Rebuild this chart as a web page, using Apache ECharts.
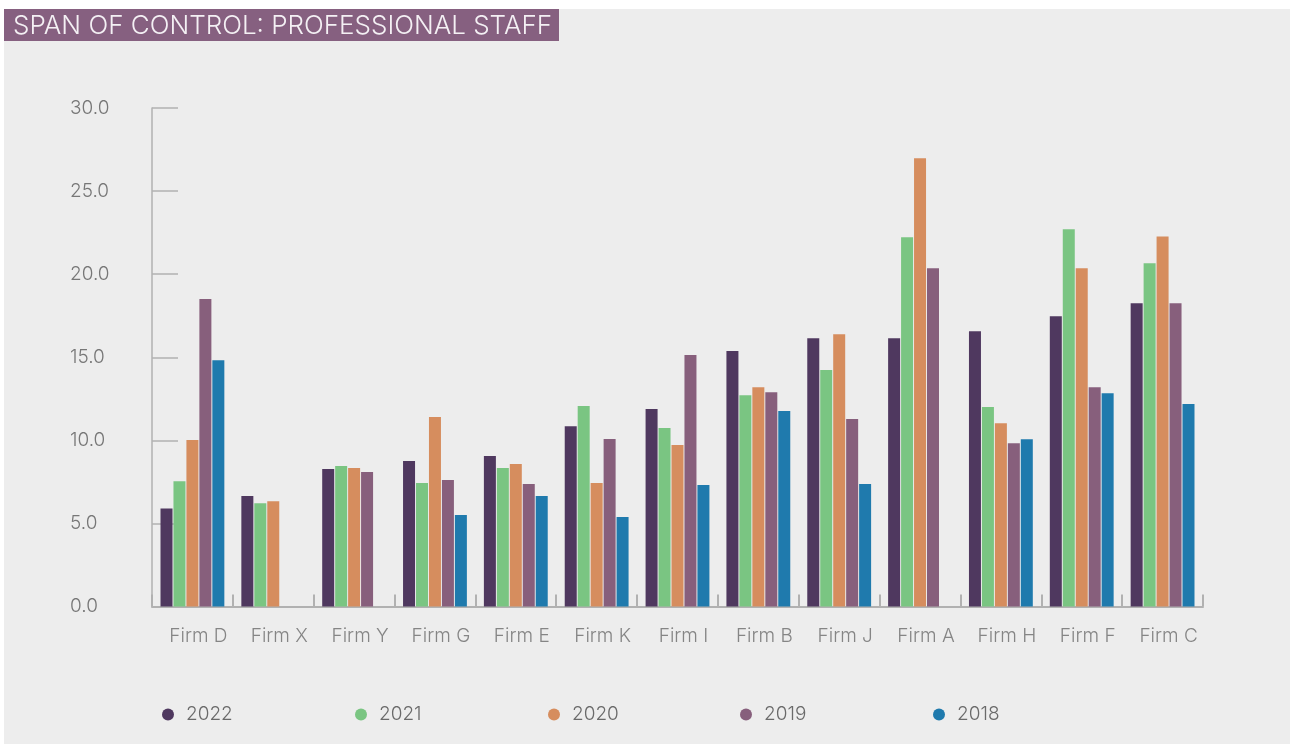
<!DOCTYPE html>
<html>
<head>
<meta charset="utf-8">
<title>Span of Control: Professional Staff</title>
<script src="https://cdn.jsdelivr.net/npm/echarts@6/dist/echarts.min.js"></script>
<style>
  html, body { margin: 0; padding: 0; background: #ffffff; }
  #chart { width: 1291px; height: 744px; }
</style>
</head>
<body>
<div id="chart"></div>
<script>
// Firms along the category axis
const firms = ['Firm D', 'Firm X', 'Firm Y', 'Firm G', 'Firm E', 'Firm K', 'Firm I',
               'Firm B', 'Firm J', 'Firm A', 'Firm H', 'Firm F', 'Firm C'];

// Span of control per firm, one array per year
const y2022 = [5.9, 6.65, 8.27, 8.75, 9.05, 10.85, 11.88, 15.37, 16.15, 16.15, 16.57, 17.47, 18.25];
const y2021 = [7.54, 6.22, 8.45, 7.43, 8.33, 12.06, 10.74, 12.72, 14.23, 22.22, 12.0, 22.7, 20.65];
const y2020 = [10.02, 6.34, 8.33, 11.4, 8.57, 7.43, 9.72, 13.2, 16.39, 26.97, 11.03, 20.35, 22.27];
const y2019 = [18.5, 0, 8.09, 7.61, 7.37, 10.08, 15.13, 12.9, 11.28, 20.35, 9.83, 13.2, 18.25];
const y2018 = [14.82, 0, 0, 5.51, 6.65, 5.39, 7.31, 11.76, 7.37, 0, 10.07, 12.84, 12.18];

const years = ['2022', '2021', '2020', '2019', '2018'];
const yearValues = [y2022, y2021, y2020, y2019, y2018];
const yearColors = ['#4f385f', '#7ac582', '#d68d5e', '#875f7c', '#1f7aad'];

// Value axis ticks
const yMin = 0, yMax = 30, yStep = 5;

const FONT = 'Inter, "Open Sans", sans-serif';
const AXIS_GREY = '#b1b1b1';

const chart = echarts.init(document.getElementById('chart'), null, { renderer: 'canvas' });

const series = years.map((name, i) => ({
  name: name,
  type: 'bar',
  data: yearValues[i],
  barWidth: 12,
  barGap: '8%',
  itemStyle: { color: yearColors[i] },
  emphasis: { disabled: true }
}));

// One legend per year so each entry sits at its own slot
const legendLefts = [157, 350, 543, 735, 928];
const legends = years.map((name, i) => ({
  data: [name],
  left: legendLefts[i],
  top: 700,
  icon: 'circle',
  itemWidth: 12,
  itemHeight: 15,
  selectedMode: false,
  textStyle: {
    fontFamily: FONT,
    fontSize: 19,
    fontWeight: 300,
    color: '#6a6a6a',
    padding: [0, 0, 0, 7]
  }
}));

chart.setOption({
  backgroundColor: '#ffffff',
  animation: false,
  graphic: [
    { type: 'rect', z: -10, silent: true,
      shape: { x: 4, y: 9, width: 1286, height: 735 },
      style: { fill: '#ededed' } },
    { type: 'rect', z: -9, silent: true,
      shape: { x: 4, y: 9, width: 555, height: 32 },
      style: { fill: '#866080' } }
  ],
  title: {
    text: 'SPAN OF CONTROL: PROFESSIONAL STAFF',
    left: 8,
    top: 8,
    textStyle: {
      fontFamily: FONT,
      fontSize: 26,
      fontWeight: 300,
      color: '#f4f0f4'
    }
  },
  legend: legends,
  grid: { left: 152, right: 88, top: 108, bottom: 137.5, containLabel: false },
  xAxis: {
    type: 'category',
    data: firms,
    boundaryGap: true,
    axisLine: { lineStyle: { color: AXIS_GREY, width: 2 } },
    axisTick: { show: true, inside: true, length: 12, alignWithLabel: false,
                lineStyle: { color: AXIS_GREY, width: 2 } },
    axisLabel: {
      margin: 20,
      fontFamily: FONT,
      fontSize: 19,
      fontWeight: 300,
      color: '#858585',
      padding: [0, 0, 0, 12]
    },
    splitLine: { show: false }
  },
  yAxis: {
    type: 'value',
    min: yMin,
    max: yMax,
    interval: yStep,
    axisLine: { show: true, lineStyle: { color: AXIS_GREY, width: 1.5 } },
    axisTick: { show: true, inside: true, length: 26, lineStyle: { color: AXIS_GREY, width: 1.5 } },
    axisLabel: {
      align: 'left',
      margin: 82,
      fontFamily: FONT,
      fontSize: 19,
      fontWeight: 300,
      color: '#777777',
      formatter: v => v.toFixed(1)
    },
    splitLine: { show: false }
  },
  series: series
});
</script>
</body>
</html>
